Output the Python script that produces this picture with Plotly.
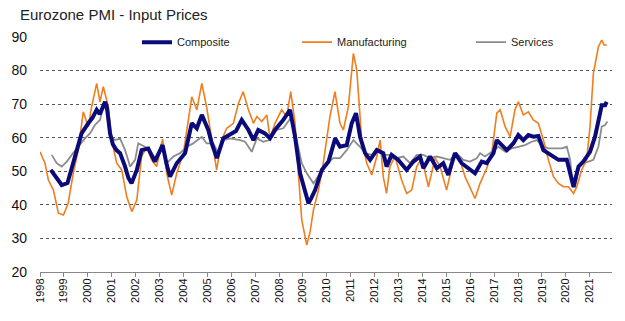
import plotly.graph_objects as go

# Composite input prices (decimal year, index)
comp_x = [1998.45, 1998.7, 1998.91, 1999.15, 1999.4, 1999.6, 1999.74, 2000.02, 2000.2, 2000.37,
          2000.5, 2000.72, 2000.8, 2000.93, 2001.05, 2001.2, 2001.35, 2001.56, 2001.7, 2001.83,
          2002.05, 2002.25, 2002.53, 2002.8, 2003.13, 2003.3, 2003.44, 2003.72, 2004.07, 2004.35,
          2004.56, 2004.77, 2005.04, 2005.2, 2005.4, 2005.67, 2005.95, 2006.2, 2006.44, 2006.72,
          2006.93, 2007.13, 2007.41, 2007.62, 2007.83, 2008.18, 2008.46, 2008.67, 2008.88, 2009.09,
          2009.23, 2009.35, 2009.51, 2009.79, 2010.07, 2010.35, 2010.55, 2010.83, 2011.04, 2011.22,
          2011.39, 2011.6, 2011.81, 2012.09, 2012.36, 2012.5, 2012.71, 2012.99, 2013.34, 2013.62,
          2013.9, 2014.04, 2014.32, 2014.6, 2014.87, 2015.08, 2015.36, 2015.64, 2015.92, 2016.2,
          2016.48, 2016.69, 2016.97, 2017.11, 2017.32, 2017.53, 2017.8, 2018.01, 2018.22, 2018.43,
          2018.64, 2018.85, 2019.06, 2019.34, 2019.69, 2020.04, 2020.18, 2020.32, 2020.53, 2020.73,
          2021.01, 2021.22, 2021.43, 2021.5, 2021.64, 2021.71]
comp_y = [50.4, 48, 45.9, 46.5, 52.4, 57, 61.3, 64.3, 66, 68.3,
          67, 70.7, 69, 61.3, 58, 56.3, 55.4, 51.4, 48, 46.4,
          50.4, 56.3, 56.8, 52.9, 57.8, 52, 48.4, 52.4, 55.4, 64.3,
          62.8, 66.8, 62.3, 58, 53.9, 59.8, 60.8, 62, 65.3, 62.3,
          59.3, 62.3, 61.3, 59.8, 62.3, 65.3, 68.3, 60.3, 49.4, 43.4,
          40.5, 42, 44.4, 50.4, 52.9, 59.8, 57.3, 57.8, 64.3, 67.3,
          60.3, 55.4, 53.4, 56.3, 55.4, 51.4, 54.9, 53.4, 50.4, 52.9,
          54.4, 50.9, 54.4, 50.9, 52.4, 48.9, 55.4, 52.4, 50.9, 49.4,
          52.9, 52.4, 55.4, 59.3, 57.8, 56.3, 58.3, 60.8, 59.3, 60.8,
          60.3, 60.5, 56.3, 54.9, 53.4, 53.4, 49.9, 45.4, 51.4, 52.9,
          55.8, 60.3, 67.3, 69.7, 69.7, 70.7]

# Manufacturing input prices
manu_x = [1998.0, 1998.21, 1998.35, 1998.56, 1998.77, 1998.98, 1999.18, 1999.39, 1999.6, 1999.81,
          2000.02, 2000.16, 2000.37, 2000.51, 2000.65, 2000.86, 2001.0, 2001.21, 2001.42, 2001.63,
          2001.84, 2002.05, 2002.25, 2002.46, 2002.67, 2002.88, 2003.13, 2003.3, 2003.51, 2003.72,
          2004.0, 2004.2, 2004.35, 2004.56, 2004.77, 2004.97, 2005.18, 2005.39, 2005.6, 2005.81,
          2006.09, 2006.3, 2006.5, 2006.72, 2006.93, 2007.07, 2007.28, 2007.49, 2007.62, 2007.83,
          2008.11, 2008.32, 2008.49, 2008.67, 2008.81, 2008.95, 2009.16, 2009.3, 2009.44, 2009.65,
          2009.85, 2010.13, 2010.34, 2010.55, 2010.69, 2010.9, 2011.11, 2011.25, 2011.46, 2011.67,
          2011.88, 2012.09, 2012.23, 2012.36, 2012.5, 2012.64, 2012.85, 2013.13, 2013.34, 2013.55,
          2013.76, 2013.97, 2014.25, 2014.53, 2014.74, 2015.01, 2015.36, 2015.57, 2015.78, 2015.99,
          2016.2, 2016.41, 2016.69, 2016.9, 2017.11, 2017.25, 2017.46, 2017.67, 2017.87, 2018.01,
          2018.22, 2018.43, 2018.64, 2018.85, 2019.06, 2019.27, 2019.48, 2019.69, 2019.9, 2020.11,
          2020.32, 2020.46, 2020.66, 2020.87, 2021.01, 2021.15, 2021.36, 2021.5, 2021.6, 2021.71]
manu_y = [55.8, 52.4, 47.4, 44.4, 37.5, 37, 40.5, 49.4, 56.3, 67.7,
          63.3, 69.2, 76.2, 70.7, 75.2, 69.2, 59.3, 52.4, 50.4, 42.4,
          38, 41.4, 54.4, 57.3, 53.4, 51.4, 59.6, 49.4, 42.9, 49.4,
          55.4, 64.3, 72.2, 68.3, 76.2, 69.2, 59.3, 50.4, 59.3, 62.8,
          64.3, 70.2, 73.7, 68.3, 64.3, 66.3, 64.8, 66.8, 59.8, 64.3,
          68.3, 66.3, 73.7, 64.3, 49.4, 35.5, 28.0, 32, 38.5, 44.4,
          52.4, 66.3, 73.7, 64.3, 62.3, 69.2, 85.1, 80.2, 59.3, 52.4,
          48.9, 54.4, 59.3, 48.4, 43.4, 51.4, 54.4, 47.4, 43.4, 44.4,
          51.4, 53.9, 45.4, 53.9, 51.4, 44.4, 55.4, 53.4, 48.4, 45.4,
          41.9, 46.4, 50.9, 55.4, 67.3, 68.3, 63.3, 60.3, 68.3, 70.7,
          66.8, 67.7, 65.3, 64.3, 59.3, 53.4, 48.4, 46.4, 45.4, 45.4,
          43.4, 45.4, 50.4, 53.4, 63.3, 79.1, 87.1, 89.1, 87.6, 87.6]

# Services input prices
serv_x = [1998.49, 1998.7, 1998.91, 1999.12, 1999.33, 1999.6, 1999.88, 2000.09, 2000.3, 2000.51,
          2000.65, 2000.79, 2000.93, 2001.14, 2001.35, 2001.56, 2001.77, 2001.98, 2002.11, 2002.39,
          2002.67, 2002.88, 2003.09, 2003.3, 2003.58, 2003.86, 2004.14, 2004.41, 2004.77, 2004.97,
          2005.25, 2005.46, 2005.67, 2005.95, 2006.37, 2006.58, 2006.86, 2007.07, 2007.34, 2007.62,
          2007.9, 2008.18, 2008.39, 2008.53, 2008.74, 2008.95, 2009.16, 2009.44, 2009.72, 2009.99,
          2010.27, 2010.55, 2010.83, 2011.11, 2011.39, 2011.6, 2011.88, 2012.15, 2012.36, 2012.64,
          2012.92, 2013.2, 2013.48, 2013.76, 2014.04, 2014.32, 2014.6, 2014.87, 2015.15, 2015.43,
          2015.71, 2015.99, 2016.27, 2016.41, 2016.62, 2016.9, 2017.18, 2017.46, 2017.73, 2018.01,
          2018.29, 2018.57, 2018.78, 2018.99, 2019.27, 2019.55, 2019.83, 2020.04, 2020.18, 2020.29,
          2020.39, 2020.53, 2020.73, 2020.94, 2021.15, 2021.36, 2021.5, 2021.64, 2021.74]
serv_y = [54.9, 52.4, 51.4, 52.9, 54.9, 57.3, 59.8, 61.3, 63.8, 65.3,
          69.2, 68.3, 60.3, 59.3, 59.8, 56.3, 51.4, 53.4, 58.3, 57.3,
          55.4, 53.4, 58.3, 52.4, 54.4, 55.4, 57.3, 58.3, 60.3, 58.3,
          58.3, 55.4, 59.3, 59.8, 59.3, 58.8, 55.8, 59.8, 58.8, 59.3,
          62.3, 62.8, 64.8, 66.3, 59.3, 52.4, 49.4, 46.4, 49.4, 52.4,
          53.9, 53.9, 56.3, 59.3, 57.3, 55.4, 54.9, 56.8, 54.9, 54.9,
          53.9, 54.4, 52.4, 54.9, 54.9, 53.9, 54.4, 53.9, 53.4, 55.4,
          53.4, 52.9, 53.9, 55.4, 54.4, 55.8, 57.3, 55.8, 56.8, 57.3,
          57.8, 58.8, 59.3, 57.8, 56.8, 56.8, 56.8, 57.3, 53.4, 45.4,
          45.4, 51.4, 52.4, 52.9, 53.4, 57.3, 63.3, 63.8, 64.8]

years = list(range(1998, 2022))
year_labels = [str(y) for y in years]
y_ticks = [20, 30, 40, 50, 60, 70, 80, 90]

fig = go.Figure()
fig.add_trace(go.Scatter(x=serv_x, y=serv_y, mode="lines", name="Services",
                         line=dict(color="#8c8c8c", width=1.8), legend="legend3"))
fig.add_trace(go.Scatter(x=manu_x, y=manu_y, mode="lines", name="Manufacturing",
                         line=dict(color="#f07d1e", width=1.6), legend="legend2"))
fig.add_trace(go.Scatter(x=comp_x, y=comp_y, mode="lines", name="Composite",
                         line=dict(color="#0a0a7a", width=4), legend="legend"))

W0, W1 = 40, 612
def px2paper(p):
    return (p - W0) / (W1 - W0)

leg_common = dict(orientation="h", yanchor="middle", y=0.978, xanchor="left",
                  bgcolor="rgba(0,0,0,0)", font=dict(family="Liberation Sans, Arial", size=11, color="#222"),
                  itemwidth=30)

fig.update_layout(
    width=625, height=321,
    margin=dict(l=40, r=13, t=37, b=49),
    paper_bgcolor="white", plot_bgcolor="white",
    font=dict(family="Liberation Sans, Arial", color="#222"),
    title=dict(text="Eurozone PMI - Input Prices", x=20/625, xanchor="left", xref="container",
               y=1 - 15/321, yanchor="middle", yref="container",
               font=dict(size=15, color="#222")),
    legend=dict(leg_common, x=px2paper(137)),
    legend2=dict(leg_common, x=px2paper(297)),
    legend3=dict(leg_common, x=px2paper(471)),
    showlegend=True,
    xaxis=dict(range=[1998, 2021.93], tickvals=years, ticktext=year_labels, tickangle=-90,
               showgrid=False, zeroline=False, showline=True, linecolor="#888", linewidth=1,
               ticks="outside", ticklen=4, tickcolor="#888", ticklabelstandoff=-3,
               tickfont=dict(size=11, color="#111")),
    yaxis=dict(range=[20, 90], tickvals=y_ticks, showgrid=True, gridcolor="#555", griddash="dot",
               gridwidth=1, zeroline=False, showline=False, ticks="",
               ticklabelstandoff=12, tickfont=dict(size=14, color="#111")),
)

fig.write_html("out.html")
